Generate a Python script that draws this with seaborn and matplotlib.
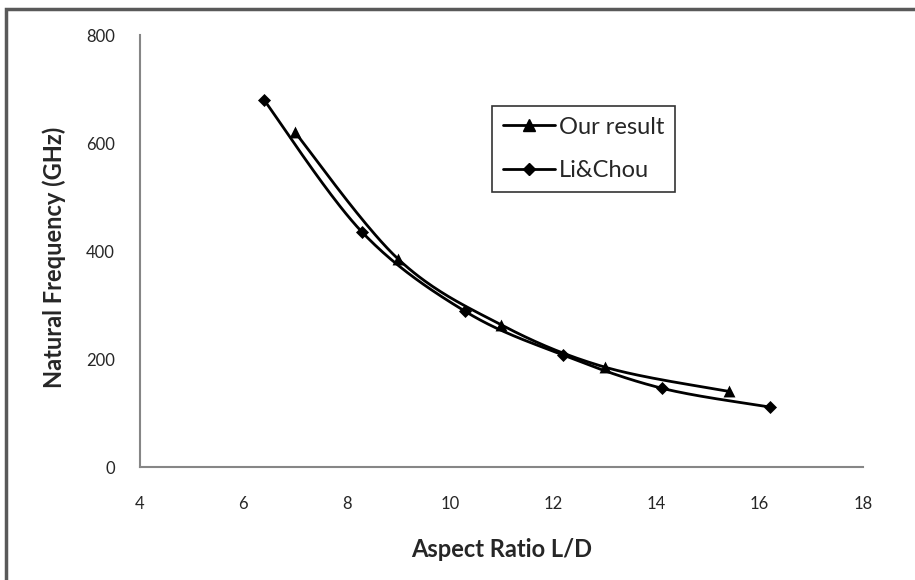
import numpy as np
import pandas as pd
import matplotlib
matplotlib.use("Agg")
import matplotlib.pyplot as plt
import seaborn as sns
from matplotlib.patches import Rectangle
from matplotlib.lines import Line2D

# ---- data ----
our_x = [7.0, 9.0, 11.0, 13.0, 15.4]
our_y = [620, 385, 263, 185, 140]
li_x = [6.4, 8.3, 10.3, 12.2, 14.1, 16.2]
li_y = [680, 435, 288, 207, 146, 111]
series_names = ["Our result", "Li&Chou"]
x_ticks = [4, 6, 8, 10, 12, 14, 16, 18]
y_ticks = [0, 200, 400, 600, 800]


def smooth(xs, ys, n=40):
    """Excel-like smoothed line (Catmull-Rom style Bezier) through the points."""
    P = np.column_stack([xs, ys]).astype(float)
    out = []
    m = len(P)
    for i in range(m - 1):
        p0 = P[i - 1] if i > 0 else P[i]
        p1, p2 = P[i], P[i + 1]
        p3 = P[i + 2] if i + 2 < m else P[i + 1]
        c1 = p1 + (p2 - p0) / 6.0
        c2 = p2 - (p3 - p1) / 6.0
        t = np.linspace(0, 1, n)[:, None]
        seg = ((1 - t) ** 3) * p1 + 3 * ((1 - t) ** 2) * t * c1 + 3 * (1 - t) * t ** 2 * c2 + t ** 3 * p2
        out.append(seg if i == 0 else seg[1:])
    return np.vstack(out)


sns.set_theme(style="white")
plt.rcParams["font.family"] = ["Lato", "DejaVu Sans"]

fig = plt.figure(figsize=(9.15, 5.8), dpi=100)
ax = fig.add_axes([140 / 915, 1 - 467 / 580, (863 - 140) / 915, (467 - 35) / 580])

lw = 2.0
for xs, ys, mk, ms, name in [(our_x, our_y, "^", 9, series_names[0]),
                              (li_x, li_y, "D", 7, series_names[1])]:
    curve = smooth(xs, ys)
    cdf = pd.DataFrame({"x": curve[:, 0], "y": curve[:, 1]})
    sns.lineplot(data=cdf, x="x", y="y", ax=ax, color="black", linewidth=lw,
                 sort=False, estimator=None, legend=False)
    pdf = pd.DataFrame({"x": xs, "y": ys})
    sns.scatterplot(data=pdf, x="x", y="y", ax=ax, marker=mk, s=ms ** 2 * 0.9,
                    color="black", edgecolor="black", linewidth=0, legend=False, zorder=5)

ax.set_xlim(4, 18)
ax.set_ylim(0, 800)
ax.set_xticks(x_ticks)
ax.set_yticks(y_ticks)
ax.set_xticklabels([str(t) for t in x_ticks], fontsize=12)
ax.set_yticklabels([str(t) for t in y_ticks], fontsize=12)
ax.tick_params(axis="x", length=0, pad=21)
ax.tick_params(axis="y", length=0, pad=18)

for s in ["top", "right"]:
    ax.spines[s].set_visible(False)
for s in ["left", "bottom"]:
    ax.spines[s].set_color("#868686")
    ax.spines[s].set_linewidth(1.5)

ax.set_xlabel("Aspect Ratio L/D", fontsize=17, fontweight="bold")
ax.xaxis.set_label_coords(0.5, (467 - 538) / 432)
ax.set_ylabel("Natural Frequency (GHz)", fontsize=17, fontweight="bold")
ax.yaxis.set_label_coords((66 - 140) / 723, (467 - 257) / 432)

handles = [Line2D([0], [0], color="black", lw=lw, marker="^", markersize=8),
           Line2D([0], [0], color="black", lw=lw, marker="D", markersize=6)]
leg = ax.legend(handles, series_names, loc="upper left",
                bbox_to_anchor=((492 - 140) / 723, (467 - 106) / 432),
                frameon=True, fancybox=False, fontsize=17, handlelength=2.2,
                handletextpad=0.2, labelspacing=0.95, borderpad=0.45,
                borderaxespad=0)
leg.get_frame().set_edgecolor("black")
leg.get_frame().set_linewidth(1.2)

# outer chart border (cropped at right/bottom as in the reference)
fig.patches.append(Rectangle((5.5 / 915, -0.1), 1.2, 1 - 9.5 / 580 + 0.1,
                             transform=fig.transFigure, fill=False,
                             edgecolor="#595959", linewidth=2.5, clip_on=False))

fig.savefig("out.png", dpi=100)
